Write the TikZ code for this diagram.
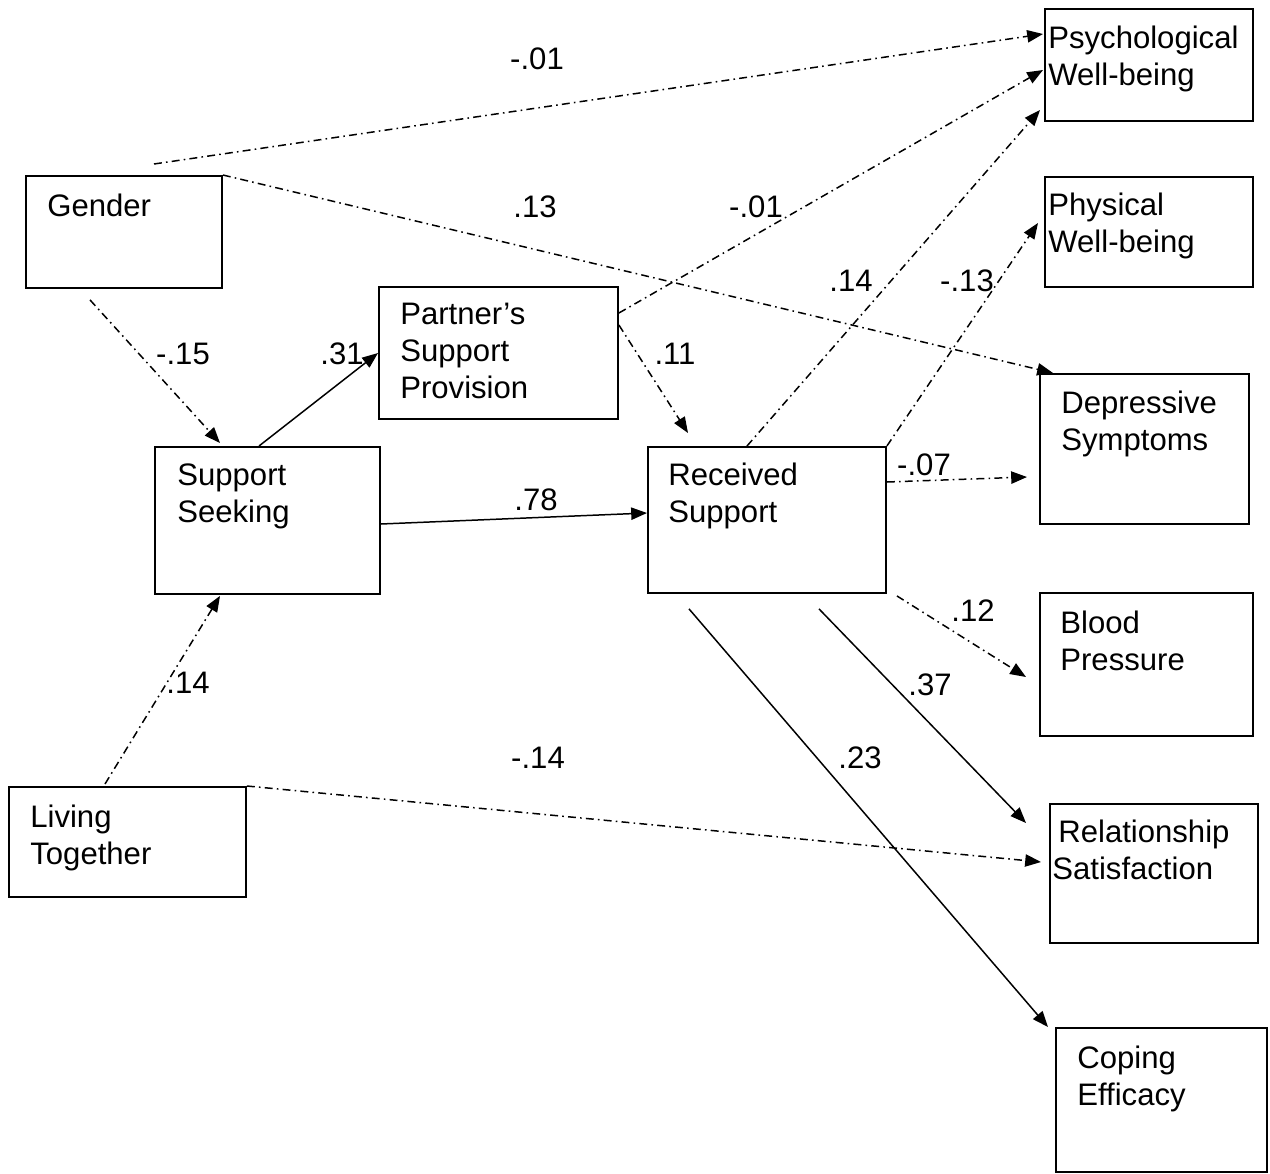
\documentclass[tikz,border=0pt]{standalone}
\usepackage{fontspec}
\setmainfont{Liberation Sans}
\usetikzlibrary{arrows.meta}
\begin{document}
\begin{tikzpicture}[x=0.02cm,y=-0.02cm,
  box/.style={draw, line width=1.1pt, inner sep=0pt, anchor=north west},
  txt/.style={inner sep=0pt, anchor=north west, align=left, font=\fontsize{17.7}{21}\selectfont},
  lab/.style={inner sep=0pt, anchor=base, font=\fontsize{17.7}{21}\selectfont},
  sol/.style={line width=0.85pt, -{Triangle[length=9pt,width=7pt]}},
  dd/.style={sol, dash pattern=on 4.5pt off 2.4pt on 0.9pt off 2.4pt}]
\path[use as bounding box] (0,0) rectangle (1270,1173);

% boxes
\node[box, minimum width=3.92cm, minimum height=2.24cm] (gender) at (25,175) {};
\node[box, minimum width=4.78cm, minimum height=2.64cm] (partner) at (378,286) {};
\node[box, minimum width=4.50cm, minimum height=2.94cm] (seek) at (154,446) {};
\node[box, minimum width=4.76cm, minimum height=2.92cm] (recv) at (647,446) {};
\node[box, minimum width=4.74cm, minimum height=2.20cm] (living) at (8,786) {};
\node[box, minimum width=4.16cm, minimum height=2.24cm] (psych) at (1044,8) {};
\node[box, minimum width=4.16cm, minimum height=2.20cm] (phys) at (1044,176) {};
\node[box, minimum width=4.18cm, minimum height=3.00cm] (depr) at (1039,373) {};
\node[box, minimum width=4.26cm, minimum height=2.86cm] (blood) at (1039,592) {};
\node[box, minimum width=4.16cm, minimum height=2.78cm] (rel) at (1049,803) {};
\node[box, minimum width=4.22cm, minimum height=2.88cm] (cope) at (1055,1027) {};

% texts
\node[txt] (gendert) at (47,193.5) {Gender};
\node[txt] (partnert) at (400,302.5) {Partner’s\\Support\\Provision};
\node[txt] (seekt) at (177,463.5) {Support\\Seeking};
\node[txt] (recvt) at (668,462.5) {Received\\Support};
\node[txt] (livingt) at (30,804.5) {Living\\Together};
\node[txt] (psycht) at (1048,25.5) {Psychological\\Well-being};
\node[txt] (physt) at (1048,192.5) {Physical\\Well-being};
\node[txt] (deprt) at (1061,390.5) {Depressive\\Symptoms};
\node[txt] (bloodt) at (1060,610.5) {Blood\\Pressure};
\node[txt] (relt) at (1052,819.5) {\hspace*{0.12cm}Relationship\\Satisfaction};
\node[txt] (copet) at (1077,1045.5) {Coping\\Efficacy};

% connectors
\draw[dd] ([shift={(129,-11)}]gender.north west) -- ([shift={(-1,26)}]psych.north west);
\draw[dd] (gender.north east) -- ([shift={(14,0)}]depr.north west);
\draw[dd] ([shift={(65,11)}]gender.south west) -- ([shift={(66,-3)}]seek.north west);
\draw[sol] ([shift={(105,0)}]seek.north west) -- ([shift={(0,67)}]partner.north west);
\draw[dd] ([shift={(0,27)}]partner.north east) -- ([shift={(-1,62)}]psych.north west);
\draw[dd] ([shift={(0,39)}]partner.north east) -- ([shift={(41,-13)}]recv.north west);
\draw[sol] ([shift={(0,78)}]seek.north east) -- ([shift={(0,67)}]recv.north west);
\draw[dd] ([shift={(100,0)}]recv.north west) -- ([shift={(-4,102)}]psych.north west);
\draw[dd] (recv.north east) -- ([shift={(-6,47)}]phys.north west);
\draw[dd] ([shift={(0,36)}]recv.north east) -- ([shift={(-12,104)}]depr.north west);
\draw[dd] ([shift={(10,2)}]recv.south east) -- ([shift={(-13,85)}]blood.north west);
\draw[sol] ([shift={(172,15)}]recv.south west) -- ([shift={(-23,20)}]rel.north west);
\draw[sol] ([shift={(42,15)}]recv.south west) -- ([shift={(-7,0)}]cope.north west);
\draw[dd] ([shift={(97,-2)}]living.north west) -- ([shift={(66,1)}]seek.south west);
\draw[dd] (living.north east) -- ([shift={(-8,59)}]rel.north west);

% labels
\node[lab] (l1) at (537,69) {-.01};
\node[lab] (l2) at (535,217) {.13};
\node[lab] (l3) at (183,364) {-.15};
\node[lab] (l4) at (342,364) {.31};
\node[lab] (l5) at (756,217) {-.01};
\node[lab] (l6) at (851,291) {.14};
\node[lab] (l7) at (967,291) {-.13};
\node[lab] (l8) at (675,364) {.11};
\node[lab] (l9) at (536,510) {.78};
\node[lab] (l10) at (924,475) {-.07};
\node[lab] (l11) at (973,621) {.12};
\node[lab] (l12) at (930,695) {.37};
\node[lab] (l13) at (860,768) {.23};
\node[lab] (l14) at (188,693) {.14};
\node[lab] (l15) at (538,768) {-.14};
\end{tikzpicture}
\end{document}
